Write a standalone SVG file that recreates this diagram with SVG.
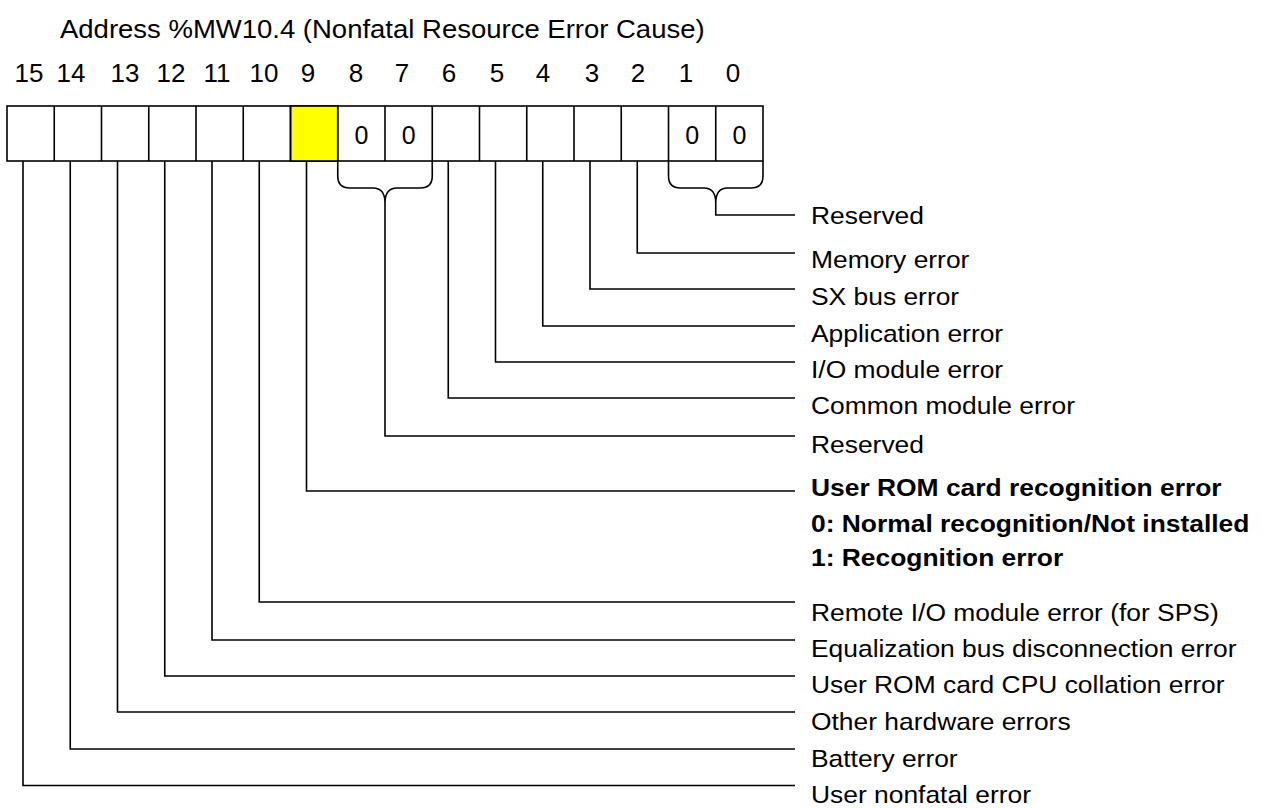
<svg xmlns="http://www.w3.org/2000/svg" width="1267" height="808" viewBox="0 0 1267 808">
  <style>
    text { font-family: "Liberation Sans", Arial, sans-serif; fill: #000; }
    .title { font-size: 25px; }
    .bitno { font-size: 26px; text-anchor: middle; }
    .zero { font-size: 25px; text-anchor: middle; }
    .lbl { font-size: 24px; }
    .bold { font-size: 24px; font-weight: bold; }
    .cell { fill: #fff; stroke: #000; stroke-width: 1.6; }
    .wire { fill: none; stroke: #000; stroke-width: 1.6; }
  </style>
  <rect width="1267" height="808" fill="#fff"/>

  <!-- heading -->
  <g id="title">
    <text class="title" transform="translate(60 38) scale(1.1 1)">Address %MW10.4 (Nonfatal Resource Error Cause)</text>
  </g>

  <!-- bit numbers -->
  <g id="bit-numbers">
    <text class="bitno" x="29" y="82">15</text>
    <text class="bitno" x="71" y="82">14</text>
    <text class="bitno" x="125" y="82">13</text>
    <text class="bitno" x="171" y="82">12</text>
    <text class="bitno" x="217" y="82">11</text>
    <text class="bitno" x="264" y="82">10</text>
    <text class="bitno" x="308" y="82">9</text>
    <text class="bitno" x="356" y="82">8</text>
    <text class="bitno" x="402" y="82">7</text>
    <text class="bitno" x="449" y="82">6</text>
    <text class="bitno" x="497" y="82">5</text>
    <text class="bitno" x="543" y="82">4</text>
    <text class="bitno" x="592" y="82">3</text>
    <text class="bitno" x="638" y="82">2</text>
    <text class="bitno" x="686" y="82">1</text>
    <text class="bitno" x="733" y="82">0</text>
  </g>

  <!-- register word: 16 bit cells -->
  <g id="register">
    <rect class="cell" x="7" y="106" width="756" height="55"/>
    <rect x="290.5" y="106" width="47.25" height="55" fill="#ffff00" stroke="#000" stroke-width="1.6"/>
    <path class="wire" d="M54.25 106V161M101.5 106V161M148.75 106V161M196 106V161M243.25 106V161M290.5 106V161M337.75 106V161M385 106V161M432.25 106V161M479.5 106V161M526.75 106V161M574 106V161M621.25 106V161M668.5 106V161M715.75 106V161"/>
    <text class="zero" x="361.4" y="144">0</text>
    <text class="zero" x="408.6" y="144">0</text>
    <text class="zero" x="692.1" y="144">0</text>
    <text class="zero" x="739.4" y="144">0</text>
  </g>

  <!-- leader lines from bits to descriptions -->
  <g id="connectors">
    <!-- brace over bits 1-0 -->
    <path class="wire" d="M668.5 161V176Q668.5 188 680.5 188H704Q715.75 188 715.75 203Q715.75 188 727.5 188H751Q763 188 763 176V161"/>
    <path class="wire" d="M715.75 203V215H795"/>
    <path class="wire" d="M637.25 161V253H795"/>
    <path class="wire" d="M590 161V289H795"/>
    <path class="wire" d="M542.75 161V326H795"/>
    <path class="wire" d="M495.5 161V362H795"/>
    <path class="wire" d="M448.25 161V398H795"/>
    <!-- brace over bits 8-7 -->
    <path class="wire" d="M337.75 161V176Q337.75 188 349.75 188H373Q385 188 385 203Q385 188 397 188H420.25Q432.25 188 432.25 176V161"/>
    <path class="wire" d="M385 203V436H795"/>
    <path class="wire" d="M306.5 161V491H795"/>
    <path class="wire" d="M259.25 161V602H795"/>
    <path class="wire" d="M212 161V640H795"/>
    <path class="wire" d="M164.75 161V676H795"/>
    <path class="wire" d="M117.5 161V712H795"/>
    <path class="wire" d="M70.25 161V749H795"/>
    <path class="wire" d="M23 161V785.5H795"/>
  </g>

  <!-- bit descriptions -->
  <g id="labels" transform="translate(811 0) scale(1.1 1)">
    <g id="bit-1-0"><text class="lbl" y="224">Reserved</text></g>
    <g id="bit-2"><text class="lbl" y="268">Memory error</text></g>
    <g id="bit-3"><text class="lbl" y="305">SX bus error</text></g>
    <g id="bit-4"><text class="lbl" y="342">Application error</text></g>
    <g id="bit-5"><text class="lbl" y="378">I/O module error</text></g>
    <g id="bit-6"><text class="lbl" y="414">Common module error</text></g>
    <g id="bit-8-7"><text class="lbl" y="453">Reserved</text></g>
    <g id="bit-9">
      <text class="bold" y="496">User ROM card recognition error</text>
      <text class="bold" y="532">0: Normal recognition/Not installed</text>
      <text class="bold" y="566">1: Recognition error</text>
    </g>
    <g id="bit-10"><text class="lbl" y="621">Remote I/O module error (for SPS)</text></g>
    <g id="bit-11"><text class="lbl" y="657">Equalization bus disconnection error</text></g>
    <g id="bit-12"><text class="lbl" y="693">User ROM card CPU collation error</text></g>
    <g id="bit-13"><text class="lbl" y="730">Other hardware errors</text></g>
    <g id="bit-14"><text class="lbl" y="767">Battery error</text></g>
    <g id="bit-15"><text class="lbl" y="803">User nonfatal error</text></g>
  </g>
</svg>
